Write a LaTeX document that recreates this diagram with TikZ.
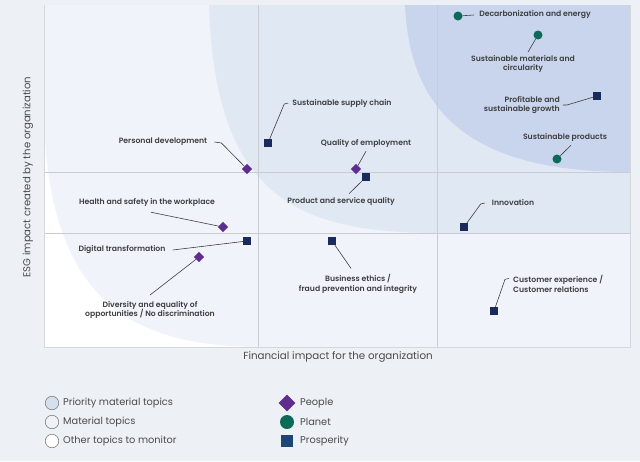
\documentclass[tikz,border=0pt]{standalone}
\usepackage{fontspec}
\setmainfont{Poppins}[BoldFont={Poppins SemiBold}]
\usepackage{tikz}
\usetikzlibrary{shapes.geometric}

\definecolor{bgcol}{HTML}{EDF1F5}
\definecolor{zonelow}{HTML}{F0F4FA}
\definecolor{zonemid}{HTML}{E0E8F4}
\definecolor{zonehigh}{HTML}{C8D5EC}
\definecolor{gridcol}{HTML}{C9CDD3}
\definecolor{txtcol}{HTML}{4A4A4C}
\definecolor{topiccol}{HTML}{3E3E41}
\definecolor{peoplecol}{HTML}{5E2D8E}
\definecolor{planetcol}{HTML}{0E6A58}
\definecolor{prospcol}{HTML}{1B2A5C}
\definecolor{legprosp}{HTML}{1C4675}

\tikzset{
  topic/.style={font=\fontsize{7.7}{9.5}\selectfont\bfseries, text=topiccol, inner sep=1pt, align=center},
  leader/.style={draw=topiccol, line width=0.6pt},
  people/.style={diamond, fill=peoplecol, inner sep=0pt, minimum size=10.5pt},
  planet/.style={circle, fill=planetcol, inner sep=0pt, minimum size=9pt},
  prosp/.style={rectangle, fill=prospcol, inner sep=0pt, minimum size=7.5pt},
  legtext/.style={font=\fontsize{9.8}{11}\selectfont, text=txtcol, anchor=west, inner sep=0pt},
}

\begin{document}
\begin{tikzpicture}[x=1pt,y=-1pt]
  \useasboundingbox[fill=bgcol] (0,0) rectangle (640,461);

  % zones of the matrix
  \fill[white] (44,5) rectangle (630,347);
  \fill[zonelow] (44,5) -- (44,120) .. controls (50,300) and (130,347) .. (262,347)
     -- (630,347) -- (630,5) -- cycle;
  \fill[zonemid] (209,5) .. controls (215,200) and (300,233) .. (440,233)
     -- (630,233) -- (630,5) -- cycle;
  \fill[zonehigh] (405,5) .. controls (410,120) and (480,172) .. (630,172)
     -- (630,5) -- cycle;

  % grid and frame
  \foreach \gx in {258,437} {
    \draw[gridcol, line width=0.8pt] (\gx,5) -- (\gx,347);
  }
  \foreach \gy in {172,233} {
    \draw[gridcol, line width=0.8pt] (44,\gy) -- (630,\gy);
  }
  \draw[gridcol!80, line width=0.8pt] (44,5) -- (44,347) -- (630,347) -- (630,5);

  % axis titles
  \node[font=\fontsize{10.3}{12}\selectfont, text=txtcol] (xlab) at (338,357)
    {Financial impact for the organization};
  \node[font=\fontsize{10.1}{12}\selectfont, text=txtcol, rotate=90] (ylab) at (28,177)
    {ESG impact created by the organization};

  % markers
  \node[people] (mpd)  at (247,169) {};
  \node[people] (mqoe) at (356,169) {};
  \node[people] (mhs)  at (223,227) {};
  \node[people] (mdeq) at (199,257) {};
  \node[planet] (mdec) at (458,16) {};
  \node[planet] (msmc) at (538,35) {};
  \node[planet] (msp)  at (557,159) {};
  \node[prosp] (mssc) at (268,143) {};
  \node[prosp] (mpsq) at (366,177) {};
  \node[prosp] (mpsg) at (597,96) {};
  \node[prosp] (mdt)  at (247,241) {};
  \node[prosp] (mbe)  at (332,241) {};
  \node[prosp] (minn) at (464,227) {};
  \node[prosp] (mcx)  at (494,311) {};

  % labels
  \node[topic] (lpd)  at (163,142) {Personal development};
  \node[topic] (lssc) at (342,103) {Sustainable supply chain};
  \node[topic] (lqoe) at (366,143) {Quality of employment};
  \node[topic] (lpsq) at (341,201) {Product and service quality};
  \node[topic] (ldec) at (535,15) {Decarbonization and energy};
  \node[topic] (lsmc) at (523,64) {Sustainable materials and\\circularity};
  \node[topic, anchor=east, align=right] (lpsg) at (561,105) {Profitable and\\sustainable growth};
  \node[topic] (lsp)  at (565,137) {Sustainable products};
  \node[topic] (lhs)  at (147,202) {Health and safety in the workplace};
  \node[topic] (ldt)  at (122,250) {Digital transformation};
  \node[topic] (ldeq) at (150,310) {Diversity and equality of\\opportunities / No discrimination};
  \node[topic] (lbe)  at (358,284) {Business ethics /\\fraud prevention and integrity};
  \node[topic] (linn) at (513,203) {Innovation};
  \node[topic, anchor=west, align=left] (lcx) at (512,284) {Customer experience /\\Customer relations};

  % leaders
  \draw[leader] ([xshift=6pt]lpd.east) -- ++(7,1) -- (mpd);
  \draw[leader] ([xshift=-3pt]lssc.west) -- ++(-4,1) -- (mssc);
  \draw[leader] ([yshift=-3pt]lqoe.south) -- (mqoe);
  \draw[leader] ([xshift=8pt,yshift=2pt]lpsq.north) -- (mpsq);
  \draw[leader] ([xshift=-4pt]ldec.west) -- (mdec);
  \draw[leader] ([xshift=5pt,yshift=2pt]lsmc.north) -- (msmc);
  \draw[leader] ([xshift=2pt]lpsg.east) -- ++(4,0) -- (mpsg);
  \draw[leader] ([xshift=6pt,yshift=-3pt]lsp.south) -- (msp);
  \draw[leader] ([xshift=4pt,yshift=-5pt]lhs.south) -- (mhs);
  \draw[leader] ([xshift=6pt]ldt.east) -- (mdt);
  \draw[leader] ([yshift=5pt]ldeq.north) -- (mdeq);
  \draw[leader] ([xshift=-7pt,yshift=5pt]lbe.north) -- (mbe);
  \draw[leader] ([xshift=-6pt]linn.west) -- ++(-4,1) -- (minn);
  \draw[leader] ([xshift=-3pt,yshift=-4pt]lcx.north west) -- ++(-4,1) -- (mcx);

  % legend
  \foreach \ly/\lfill/\ltext [count=\li] in {403/D6DFEE/Priority material topics,
      422/EEF2F8/Material topics, 441/FFFFFF/Other topics to monitor} {
    \definecolor{legfill}{HTML}{\lfill}
    \node[circle, draw=black!55, line width=0.5pt, fill=legfill, minimum size=13.5pt,
      inner sep=0pt] (zone\li) at (52,\ly) {};
    \node[legtext] (zonetxt\li) at (63,\ly) {\ltext};
  }
  \node[people, minimum size=17pt] (legpeople) at (287,403) {};
  \node[planet, minimum size=14pt] (legplanet) at (287,422) {};
  \node[prosp, fill=legprosp, minimum size=12.5pt] (legprosp) at (287,441) {};
  \node[legtext] (legpeopletxt) at (300,403) {People};
  \node[legtext] (legplanettxt) at (300,422) {Planet};
  \node[legtext] (legprosptxt) at (300,441) {Prosperity};
\end{tikzpicture}
\end{document}
